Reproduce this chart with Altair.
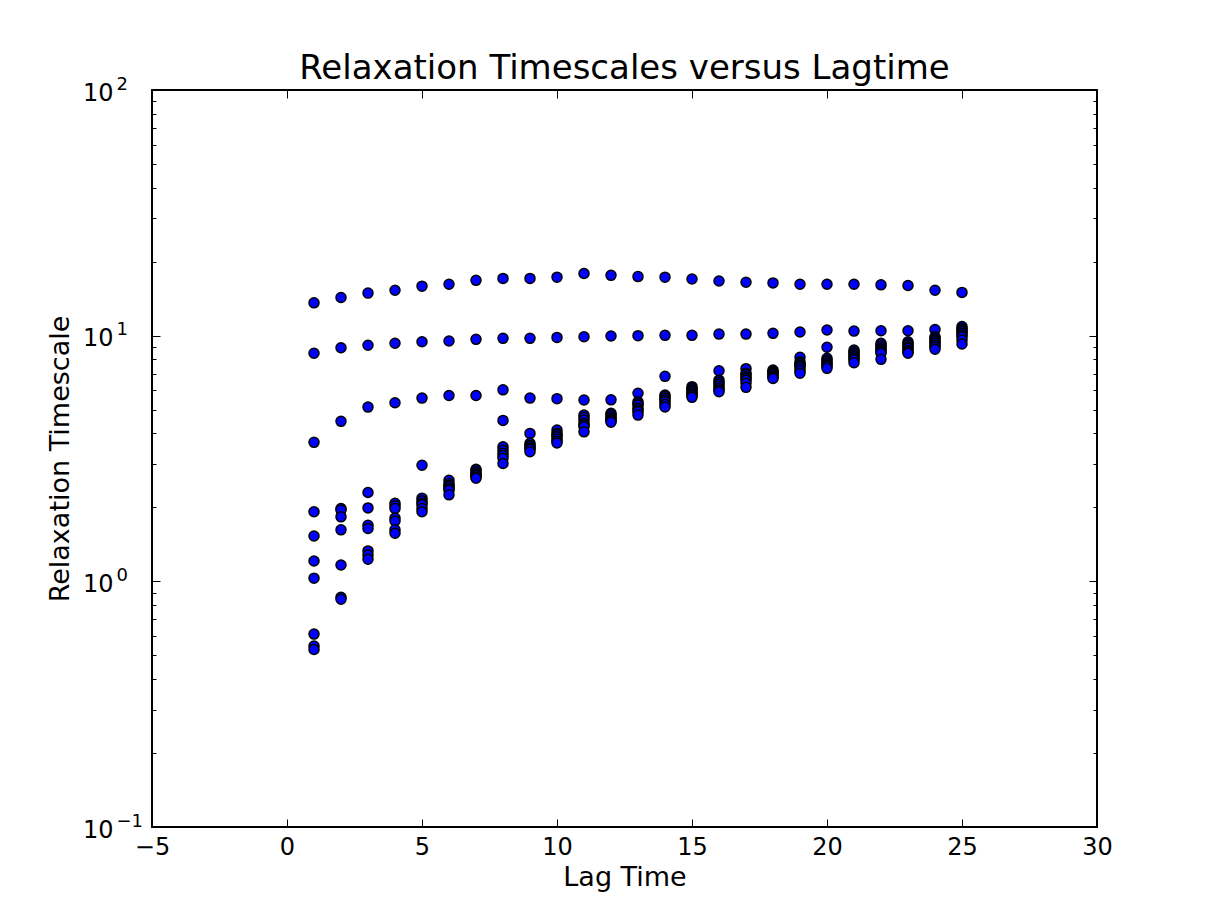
import altair as alt
import pandas as pd

# ---------------- data ----------------
lag_times = list(range(1, 26))

tau_lag01 = [13.6, 8.48, 3.68, 1.92, 1.53, 1.21, 1.03, 0.61, 0.545, 0.528]
tau_lag02 = [14.3, 8.93, 4.48, 1.98, 1.95, 1.83, 1.62, 1.165, 0.861, 0.845]
tau_lag03 = [14.9, 9.14, 5.12, 2.30, 1.99, 1.69, 1.64, 1.33, 1.28, 1.23]
tau_lag04 = [15.3, 9.31, 5.33, 2.08, 2.03, 1.98, 1.81, 1.76, 1.62, 1.57]
tau_lag05 = [15.9, 9.45, 5.57, 2.97, 2.18, 2.13, 2.08, 2.05, 1.98, 1.92]
tau_lag06 = [16.2, 9.51, 5.71, 2.58, 2.50, 2.46, 2.43, 2.38, 2.35, 2.25]
tau_lag07 = [16.8, 9.66, 5.71, 2.86, 2.82, 2.77, 2.72, 2.70, 2.66, 2.63]
tau_lag08 = [17.1, 9.75, 6.02, 4.52, 3.53, 3.42, 3.32, 3.25, 3.17, 3.02]
tau_lag09 = [17.1, 9.75, 5.57, 4.00, 3.65, 3.58, 3.53, 3.48, 3.45, 3.37]
tau_lag10 = [17.3, 9.84, 5.54, 4.13, 4.00, 3.95, 3.88, 3.80, 3.72, 3.66]
tau_lag11 = [17.9, 9.90, 5.47, 4.75, 4.65, 4.54, 4.40, 4.33, 4.26, 4.06]
tau_lag12 = [17.6, 9.97, 5.48, 4.83, 4.76, 4.68, 4.60, 4.54, 4.50, 4.44]
tau_lag13 = [17.4, 10.0, 5.83, 5.38, 5.30, 5.22, 5.06, 4.98, 4.90, 4.75]
tau_lag14 = [17.3, 10.03, 6.83, 5.73, 5.65, 5.56, 5.47, 5.38, 5.25, 5.13]
tau_lag15 = [17.0, 10.03, 6.20, 6.10, 6.01, 5.95, 5.86, 5.78, 5.70, 5.61]
tau_lag16 = [16.7, 10.15, 7.20, 6.59, 6.47, 6.35, 6.22, 6.10, 6.00, 5.91]
tau_lag17 = [16.5, 10.15, 7.34, 7.03, 6.95, 6.81, 6.70, 6.59, 6.40, 6.16]
tau_lag18 = [16.4, 10.22, 7.25, 7.15, 7.10, 7.03, 6.95, 6.85, 6.78, 6.70]
tau_lag19 = [16.2, 10.35, 8.16, 7.83, 7.70, 7.59, 7.50, 7.36, 7.20, 7.03]
tau_lag20 = [16.2, 10.55, 8.97, 8.09, 7.95, 7.83, 7.70, 7.59, 7.50, 7.36]
tau_lag21 = [16.2, 10.44, 8.74, 8.60, 8.48, 8.35, 8.21, 8.10, 7.96, 7.76]
tau_lag22 = [16.1, 10.47, 9.31, 9.15, 9.02, 8.85, 8.74, 8.60, 8.48, 8.01]
tau_lag23 = [16.0, 10.47, 9.45, 9.30, 9.16, 9.00, 8.88, 8.70, 8.60, 8.48]
tau_lag24 = [15.3, 10.6, 9.90, 9.75, 9.60, 9.45, 9.31, 9.15, 9.00, 8.80]
tau_lag25 = [15.0, 10.9, 10.7, 10.55, 10.4, 10.22, 10.05, 9.90, 9.60, 9.25]

timescales_by_lag = [
    tau_lag01, tau_lag02, tau_lag03, tau_lag04, tau_lag05,
    tau_lag06, tau_lag07, tau_lag08, tau_lag09, tau_lag10,
    tau_lag11, tau_lag12, tau_lag13, tau_lag14, tau_lag15,
    tau_lag16, tau_lag17, tau_lag18, tau_lag19, tau_lag20,
    tau_lag21, tau_lag22, tau_lag23, tau_lag24, tau_lag25,
]

x_ticks = [-5, 0, 5, 10, 15, 20, 25, 30]
y_ticks = [0.1, 1, 10, 100]
y_tick_base = "10"
y_tick_exponents = ["\u22121", "0", "1", "2"]
y_minor_mantissas = [2, 3, 4, 5, 6, 7, 8, 9]
y_minor_decades = [0.1, 1, 10]

title_text = "Relaxation Timescales versus Lagtime"
x_title = "Lag Time"
y_title = "Relaxation Timescale"

# ---------------- build ----------------
rows = [{"lag": lag, "tau": v} for lag, vals in zip(lag_times, timescales_by_lag) for v in vals]
df = pd.DataFrame(rows)
y_minor_ticks = [round(m * d, 6) for d in y_minor_decades for m in y_minor_mantissas]

FONT = "DejaVu Sans"
xscale = alt.Scale(domain=[-5, 30], nice=False, zero=False)
yscale = alt.Scale(type="log", domain=[0.1, 100], nice=False)

base_expr = "'%s'" % y_tick_base
exp_expr = "[" + ",".join("'%s'" % s for s in y_tick_exponents) + "][round(log(datum.value)/LN10) + 1]"

base = alt.Chart(df)

points = base.mark_circle(
    color="#0000ff", stroke="black", strokeWidth=1.5, size=100, opacity=1
).encode(
    x=alt.X("lag:Q", scale=xscale, axis=alt.Axis(
        orient="bottom", values=x_ticks, format="d", grid=False, domain=False,
        ticks=False, tickSize=0, labelFont=FONT, labelFontSize=24, labelColor="black",
        labelPadding=8, labelFlush=False, labelOverlap=False,
        title=x_title, titleFont=FONT, titleFontSize=27, titleFontWeight="normal",
        titleColor="black", titlePadding=5)),
    y=alt.Y("tau:Q", scale=yscale, axis=alt.Axis(
        orient="left", values=y_ticks, labelExpr=base_expr, grid=False, domain=False,
        ticks=False, tickSize=0, labelFont=FONT, labelFontSize=24, labelColor="black",
        labelAlign="right", labelPadding=39, labelOffset=3, labelFlush=False,
        labelOverlap=False,
        title=y_title, titleFont=FONT, titleFontSize=27, titleFontWeight="normal",
        titleColor="black", titlePadding=8)),
)


def tick_axis(orient, values, size):
    return alt.Axis(orient=orient, values=values, grid=False, domain=False, labels=False,
                    ticks=True, tickSize=size, offset=-size, tickColor="black",
                    tickWidth=1, title=None)


def tick_layer(x_axis, y_axis):
    return base.mark_point(opacity=0, size=1).encode(
        x=alt.X("lag:Q", scale=xscale, axis=x_axis),
        y=alt.Y("tau:Q", scale=yscale, axis=y_axis),
    )


exp_axis = alt.Axis(
    orient="left", values=y_ticks, labelExpr=exp_expr, grid=False, domain=False,
    ticks=False, tickSize=0, labelFont=FONT, labelFontSize=18, labelColor="black",
    labelAlign="left", labelPadding=36, labelOffset=-6, labelFlush=False,
    labelOverlap=False, title=None)

layers = [
    tick_layer(tick_axis("bottom", x_ticks, 8), tick_axis("left", y_ticks, 8)),
    tick_layer(tick_axis("top", x_ticks, 8), tick_axis("right", y_ticks, 8)),
    tick_layer(None, tick_axis("left", y_minor_ticks, 4)),
    tick_layer(None, tick_axis("right", y_minor_ticks, 4)),
    tick_layer(None, exp_axis),
    points,
]

chart = alt.layer(*layers).resolve_axis(
    x="independent", y="independent"
).properties(
    width=945,
    height=737,
    title=alt.TitleParams(title_text, font=FONT, fontSize=34, fontWeight="normal",
                          color="black", offset=-11),
    autosize=alt.AutoSizeParams(type="none"),
    padding={"left": 144, "top": 82, "right": 100, "bottom": 70},
).configure(
    background="white",
    view=alt.ViewConfig(stroke="black", strokeWidth=2),
)

chart.save("out.html", embed_options={"renderer": "svg", "actions": False})
